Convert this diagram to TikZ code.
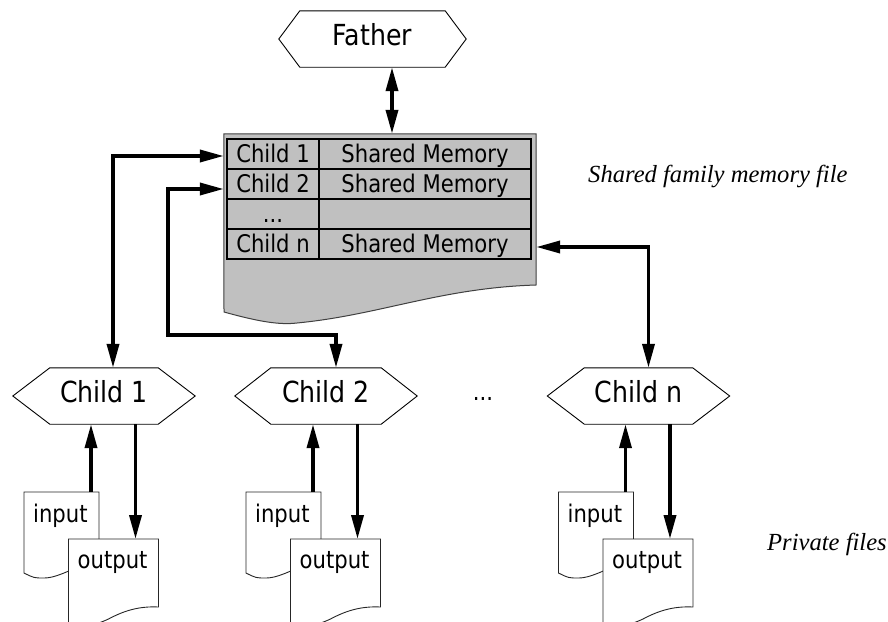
\documentclass[tikz,border=0pt]{standalone}
\usepackage{fontspec}
\setmainfont{DejaVu Sans}[FakeStretch=0.87]
\newfontfamily\timesf{Liberation Serif}
\usetikzlibrary{arrows.meta}
\definecolor{memgray}{RGB}{192,192,192}
\tikzset{
  hexbox/.style={minimum height=56pt, minimum width=182pt, inner sep=0pt, text height=20pt, text depth=8pt, font=\fontsize{29}{34}\selectfont},
  hexline/.style={draw=black, line width=0.9pt},
  cell/.style={draw=black, line width=1.8pt, fill=memgray, minimum height=30pt, inner sep=0pt, text height=19pt, text depth=3pt, font=\fontsize{24.3}{28}\selectfont},
  smalltext/.style={inner sep=0pt, font=\fontsize{24.3}{28}\selectfont},
  italab/.style={inner sep=0pt, font=\timesf\itshape\fontsize{24.6}{28}\selectfont},
  docline/.style={draw=black!85, line width=0.9pt, fill=white},
  memline/.style={draw=black!75, line width=1pt, fill=memgray},
  ghost/.style={inner sep=0pt, draw=none},
  biarr/.style={arrows={Triangle[length=24pt,width=12pt]-Triangle[length=24pt,width=12pt]}, line width=3.6pt},
  onearr/.style={arrows={-Triangle[length=24pt,width=12pt]}, line width=3.6pt}
}
\newcommand\hexdraw[2]{\draw[hexline] (#1.west) -- ([xshift=#2]#1.north west) -- ([xshift=-#2]#1.north east) -- (#1.east) -- ([xshift=-#2]#1.south east) -- ([xshift=#2]#1.south west) -- cycle;}
\newcommand\inshape[1]{\begin{scope}[shift={(#1,492)}]\filldraw[docline] (0,0) -- (75,0) -- (75,70) .. controls (57,70) and (37,86) .. (20,86) .. controls (10,86) .. (0,81) -- cycle;\end{scope}}
\newcommand\outshape[1]{\begin{scope}[shift={(#1,539)}]\filldraw[docline] (0,0) -- (90,0) -- (90,68) .. controls (70,67) and (55,72) .. (40,80) .. controls (25,87) and (10,90) .. (0,88) -- cycle;\end{scope}}
\begin{document}
\begin{tikzpicture}[x=1pt,y=-1pt]
\useasboundingbox (0,0) rectangle (888,621);

% Father
\node[hexbox, minimum width=187pt] (fa) at (372.5,39) {Father};
\hexdraw{fa}{21}

% memory document
\node[ghost, minimum width=312pt, minimum height=178pt] (mem) at (380,223) {};
\filldraw[memline] (mem.north west) -- (mem.north east) -- (536,285)
  .. controls (440,288) and (380,315) .. (297,323)
  .. controls (280,325) and (260,322) .. (224,312) -- cycle;

% table
\node[cell, minimum width=92pt] (r1a) at (273,154) {Child 1};
\node[cell, minimum width=212pt] (r1b) at (425,154) {Shared Memory};
\node[cell, minimum width=92pt] (r2a) at (273,184) {Child 2};
\node[cell, minimum width=212pt] (r2b) at (425,184) {Shared Memory};
\node[cell, minimum width=92pt] (r3a) at (273,214) {...};
\node[cell, minimum width=212pt] (r3b) at (425,214) {};
\node[cell, minimum width=92pt] (rna) at (273,244) {Child n};
\node[cell, minimum width=212pt] (rnb) at (425,244) {Shared Memory};

% children
\node[hexbox] (c1) at (104,396) {Child 1};
\hexdraw{c1}{37}
\node[hexbox] (c2) at (326,396) {Child 2};
\hexdraw{c2}{36}
\node[hexbox] (cn) at (638.5,396) {Child n};
\hexdraw{cn}{37}
\node[smalltext, anchor=base] (dots) at (483,400) {...};

% labels
\node[italab, anchor=base west] (lab1) at (588,182) {Shared family memory file};
\node[italab, anchor=base west] (lab2) at (767,550) {Private files};

% connectors to memory
\draw[biarr] ([xshift=19.5pt]fa.south) -- ([xshift=19.5pt]fa.south |- mem.north);
\draw[biarr] ([yshift=-2pt]r1a.west -| mem.west) -| ([xshift=9pt]c1.north);
\coordinate (k2) at (168,335);
\draw[biarr] ([yshift=-5pt]r2a.west -| mem.west) -| (k2) -| ([xshift=10pt]c2.north);
\draw[biarr] ([yshift=-3pt]rnb.east -| mem.east) -| ([xshift=10pt]cn.north);

% private files
\foreach \cx/\nm in {104/1, 326/2, 638.5/n} {
  \pgfmathsetmacro\il{\cx-80}
  \pgfmathsetmacro\ol{\cx-35.5}
  \inshape{\il}
  \node[ghost, anchor=north west, minimum width=75pt, minimum height=82pt] (in\nm) at (\il,492) {};
  \node[smalltext, anchor=base west] (in\nm t) at ([xshift=9pt,yshift=-30pt]in\nm.north west) {input};
  \outshape{\ol}
  \node[ghost, anchor=north west, minimum width=90pt, minimum height=82pt] (out\nm) at (\ol,539) {};
  \node[smalltext, anchor=base west] (out\nm t) at ([xshift=9pt,yshift=-29pt]out\nm.north west) {output};
  \draw[onearr] ([xshift=67pt]in\nm.north west) -- ([xshift=67pt]in\nm.north west |- c\nm.south);
  \draw[onearr] ([xshift=67pt]out\nm.north west |- c\nm.south) -- ([xshift=67pt]out\nm.north west);
}
\end{tikzpicture}
\end{document}
